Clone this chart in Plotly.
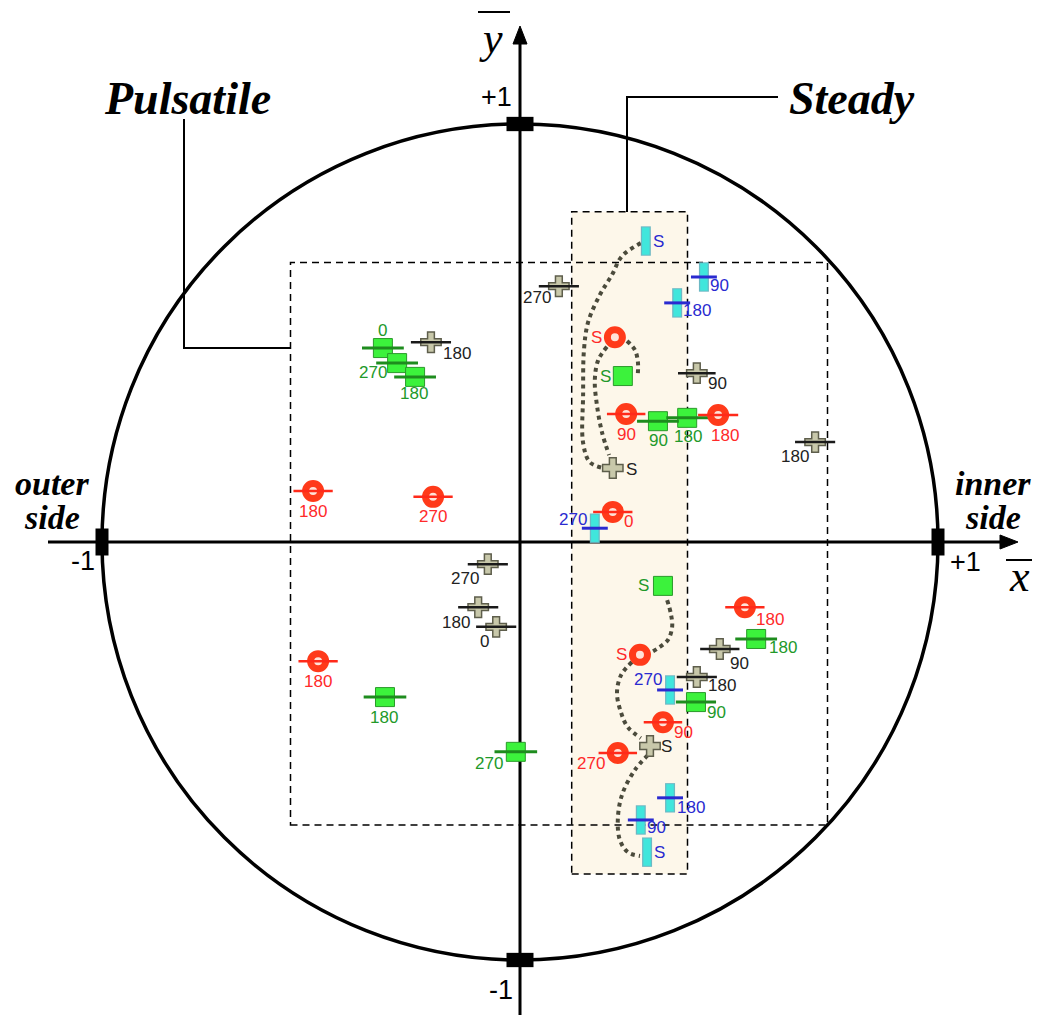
import plotly.graph_objects as go

# ---------------- data (normalised coordinates, unit circle = wall) ----------------
red_x = [-0.495, -0.208, -0.483, 0.222, 0.227, 0.254, 0.474, 0.538, 0.287, 0.342, 0.234]
red_y = [0.122, 0.108, -0.285, 0.072, 0.490, 0.306, 0.304, -0.156, -0.270, -0.431, -0.505]
red_err = [0.047, 0.047, 0.047, 0.047, 0.0, 0.046, 0.048, 0.047, 0.0, 0.046, 0.046]
red_labels = ["180", "270", "180", "0", "S", "90", "180", "180", "S", "90", "270"]

green_x = [-0.328, -0.294, -0.251, 0.246, 0.330, 0.400, 0.342, 0.565, 0.421, -0.323, -0.010]
green_y = [0.464, 0.428, 0.395, 0.397, 0.289, 0.297, -0.105, -0.232, -0.383, -0.371, -0.502]
green_err = [0.050, 0.050, 0.050, 0.0, 0.050, 0.050, 0.0, 0.050, 0.048, 0.051, 0.051]
green_labels = ["0", "270", "180", "S", "90", "180", "S", "180", "90", "180", "270"]

gray_x = [-0.213, 0.093, 0.423, 0.706, 0.222, -0.077, -0.100, -0.057, 0.478, 0.423, 0.311]
gray_y = [0.478, 0.612, 0.404, 0.239, 0.177, -0.053, -0.156, -0.203, -0.256, -0.323, -0.488]
gray_err = [0.048, 0.048, 0.045, 0.048, 0.0, 0.048, 0.048, 0.048, 0.047, 0.048, 0.0]
gray_labels = ["180", "270", "90", "180", "S", "270", "180", "0", "90", "180", "S"]

cyan_x = [0.301, 0.440, 0.376, 0.179, 0.359, 0.359, 0.289, 0.304]
cyan_y = [0.720, 0.634, 0.572, 0.033, -0.354, -0.612, -0.665, -0.742]
cyan_err = [0.0, 0.031, 0.031, 0.031, 0.031, 0.031, 0.031, 0.0]
cyan_labels = ["S", "90", "180", "270", "270", "180", "90", "S"]

# dotted trajectories joining the steady-flow ("S") positions
path1_x = [0.289, 0.244, 0.220, 0.191, 0.163, 0.153, 0.151, 0.151, 0.167, 0.199]
path1_y = [0.715, 0.684, 0.639, 0.591, 0.526, 0.459, 0.352, 0.237, 0.191, 0.177]
path2_x = [0.208, 0.187, 0.179, 0.184, 0.196, 0.213]
path2_y = [0.467, 0.435, 0.388, 0.328, 0.263, 0.208]
path3_x = [0.256, 0.275, 0.282, 0.282]
path3_y = [0.481, 0.459, 0.431, 0.404]
path4_x = [0.352, 0.361, 0.364, 0.354, 0.330, 0.306]
path4_y = [-0.139, -0.172, -0.203, -0.234, -0.254, -0.268]
path5_x = [0.268, 0.242, 0.232, 0.242, 0.258, 0.289]
path5_y = [-0.287, -0.318, -0.361, -0.409, -0.443, -0.469]
path6_x = [0.306, 0.275, 0.244, 0.234, 0.239, 0.258, 0.287]
path6_y = [-0.510, -0.545, -0.605, -0.665, -0.713, -0.742, -0.751]

# label offsets in pixels (dx right, dy down)
red_off = [(0, 20), (0, 20), (0, 20), (16, 10), (-18, 0), (0, 20), (7, 21), (25, 12), (-18, 0), (21, 10), (-27, 10)]
green_off = [(0, -18), (-24, 9), (-1, 17), (-17, 0), (1, 19), (1, 19), (-19, 0), (27, 9), (21, 10), (-1, 20), (-27, 12)]
gray_off = [(26, 11), (-22, 11), (21, 10), (-20, 14), (19, 1), (-23, 14), (-22, 15), (-12, 15), (20, 14), (25, 8), (16, 1)]
cyan_off = [(13, 0), (16, 9), (20, 8), (-22, -9), (-22, -10), (21, 10), (16, 8), (12, 0)]

# ---------------- geometry helpers ----------------
W, H = 1054, 1015
CX, CY, R = 520.0, 542.0, 418.0


def px2x(px):
    return (px - CX) / R


def px2y(py):
    return (CY - py) / R


SANS = "Liberation Sans, Arial, sans-serif"
SERIF = "Liberation Serif, Times New Roman, serif"

fig = go.Figure()
shapes = []
annotations = []

# steady region (cream box) and pulsatile region (dashed box)
shapes.append(dict(type="rect", layer="below", x0=px2x(571.7), x1=px2x(687.5), y0=px2y(874), y1=px2y(211.7),
                   fillcolor="#fdf7ea", line=dict(color="black", width=1.5, dash="7px,5px")))
shapes.append(dict(type="rect", layer="below", x0=px2x(290.5), x1=px2x(827.5), y0=px2y(825), y1=px2y(262.5),
                   fillcolor="rgba(0,0,0,0)", line=dict(color="black", width=1.5, dash="7px,5px")))

# axes
shapes.append(dict(type="line", layer="below", x0=px2x(48), x1=px2x(1004), y0=0, y1=0,
                   line=dict(color="black", width=3)))
shapes.append(dict(type="line", layer="below", x0=0, x1=0, y0=px2y(1016), y1=px2y(40),
                   line=dict(color="black", width=3)))
# arrow heads
tx, ty = px2x(1018), 0
shapes.append(dict(type="path", layer="below",
                   path=f"M {tx} {ty} L {px2x(1000)} {px2y(535)} L {px2x(1000)} {px2y(549)} Z",
                   fillcolor="black", line=dict(color="black", width=1)))
shapes.append(dict(type="path", layer="below",
                   path=f"M 0 {px2y(26)} L {px2x(513)} {px2y(44)} L {px2x(527)} {px2y(44)} Z",
                   fillcolor="black", line=dict(color="black", width=1)))

# unit circle
shapes.append(dict(type="circle", layer="below", x0=-1, x1=1, y0=-1, y1=1,
                   line=dict(color="black", width=3.5)))

# tick blocks at +-1
hw, hh = 6.5 / R, 13.5 / R
for sx in (-1, 1):
    shapes.append(dict(type="rect", layer="below", x0=sx - hw, x1=sx + hw, y0=-hh, y1=hh,
                       fillcolor="black", line=dict(width=0)))
for sy in (-1, 1):
    shapes.append(dict(type="rect", layer="below", x0=-hh, x1=hh, y0=sy - hw * 1.1, y1=sy + hw * 1.1,
                       fillcolor="black", line=dict(width=0)))

# callout lines
shapes.append(dict(type="path", layer="below",
                   path=f"M {px2x(184)} {px2y(119)} L {px2x(184)} {px2y(348)} L {px2x(290)} {px2y(348)}",
                   line=dict(color="black", width=2)))
shapes.append(dict(type="path", layer="below",
                   path=f"M {px2x(627)} {px2y(212)} L {px2x(627)} {px2y(97)} L {px2x(778)} {px2y(97)}",
                   line=dict(color="black", width=2)))

# overbars for axis symbols
shapes.append(dict(type="line", x0=px2x(478), x1=px2x(510), y0=px2y(12), y1=px2y(12),
                   line=dict(color="black", width=2)))
shapes.append(dict(type="line", x0=px2x(1006), x1=px2x(1032), y0=px2y(560), y1=px2y(560),
                   line=dict(color="black", width=2)))

# ---------------- traces ----------------
for px_, py_ in [(path1_x, path1_y), (path2_x, path2_y), (path3_x, path3_y),
                 (path4_x, path4_y), (path5_x, path5_y), (path6_x, path6_y)]:
    fig.add_trace(go.Scatter(x=px_, y=py_, mode="lines", line_shape="spline",
                             line=dict(color="#4b4b3c", width=4, dash="4px,4px"),
                             hoverinfo="skip"))


def err_segments(xs, ys, es):
    sx, sy = [], []
    for x, y, e in zip(xs, ys, es):
        if e > 0:
            sx += [x - e, x + e, None]
            sy += [y, y, None]
    return sx, sy


def add_err(xs, ys, es, color, width):
    sx, sy = err_segments(xs, ys, es)
    fig.add_trace(go.Scatter(x=sx, y=sy, mode="lines", line=dict(color=color, width=width),
                             hoverinfo="skip"))


# gray crosses
fig.add_trace(go.Scatter(x=gray_x, y=gray_y, mode="markers",
                         marker=dict(symbol="cross", size=17, color="#c8c8aa",
                                     line=dict(color="#5e5e4c", width=1.5))))
add_err(gray_x, gray_y, gray_err, "#1a1a1a", 2.5)

# green squares
fig.add_trace(go.Scatter(x=green_x, y=green_y, mode="markers",
                         marker=dict(symbol="square", size=19, color="#3cf23c",
                                     line=dict(color="#2a9a2a", width=1))))
add_err(green_x, green_y, green_err, "#1e8c1e", 3)

# red rings
fig.add_trace(go.Scatter(x=red_x, y=red_y, mode="markers",
                         marker=dict(symbol="circle", size=15, color="#ffe2d8",
                                     line=dict(color="#ff3a1a", width=7))))
add_err(red_x, red_y, red_err, "#ff2a1a", 2.5)

# cyan bars
fig.add_trace(go.Scatter(x=cyan_x, y=cyan_y, mode="markers",
                         marker=dict(symbol="line-ns", size=21, line=dict(color="#6cb8c4", width=10))))
fig.add_trace(go.Scatter(x=cyan_x, y=cyan_y, mode="markers",
                         marker=dict(symbol="line-ns", size=19.5, line=dict(color="#40e6dc", width=7.5))))
add_err(cyan_x, cyan_y, cyan_err, "#2a2ad0", 3)

# ---------------- labels ----------------
for xs, ys, labs, offs, col in [(red_x, red_y, red_labels, red_off, "#ff2a2a"),
                                (green_x, green_y, green_labels, green_off, "#22992a"),
                                (gray_x, gray_y, gray_labels, gray_off, "#222222"),
                                (cyan_x, cyan_y, cyan_labels, cyan_off, "#2a2ad0")]:
    for x, y, t, (dx, dy) in zip(xs, ys, labs, offs):
        annotations.append(dict(x=x, y=y, text=t, showarrow=False, xshift=dx, yshift=-dy,
                                xanchor="center", yanchor="middle",
                                font=dict(family=SANS, size=17, color=col)))


def txt(px, py, text, family, size, color="black"):
    annotations.append(dict(x=px2x(px), y=px2y(py), text=text, showarrow=False,
                            xanchor="center", yanchor="middle",
                            font=dict(family=family, size=size, color=color)))


txt(187, 98, "<b><i>Pulsatile</i></b>", SERIF, 46)
txt(852, 98, "<b><i>Steady</i></b>", SERIF, 46)
txt(52, 483, "<b><i>outer</i></b>", SERIF, 34)
txt(52, 517, "<b><i>side</i></b>", SERIF, 34)
txt(993, 483, "<b><i>inner</i></b>", SERIF, 34)
txt(993, 517, "<b><i>side</i></b>", SERIF, 34)
txt(496, 97, "+1", SANS, 27)
txt(501, 990, "-1", SANS, 27)
txt(83, 561, "-1", SANS, 27)
txt(965, 562, "+1", SANS, 27)
txt(491, 38, "<i>y</i>", SERIF, 44)
txt(1019, 576, "<i>x</i>", SERIF, 44)

fig.update_layout(
    width=W, height=H, autosize=False,
    margin=dict(l=0, r=0, t=0, b=0, pad=0),
    paper_bgcolor="white", plot_bgcolor="white",
    showlegend=False,
    xaxis=dict(range=[px2x(0), px2x(W)], visible=False, fixedrange=True),
    yaxis=dict(range=[px2y(H), px2y(0)], visible=False, fixedrange=True),
    shapes=shapes, annotations=annotations,
)

fig.write_html("out.html")
